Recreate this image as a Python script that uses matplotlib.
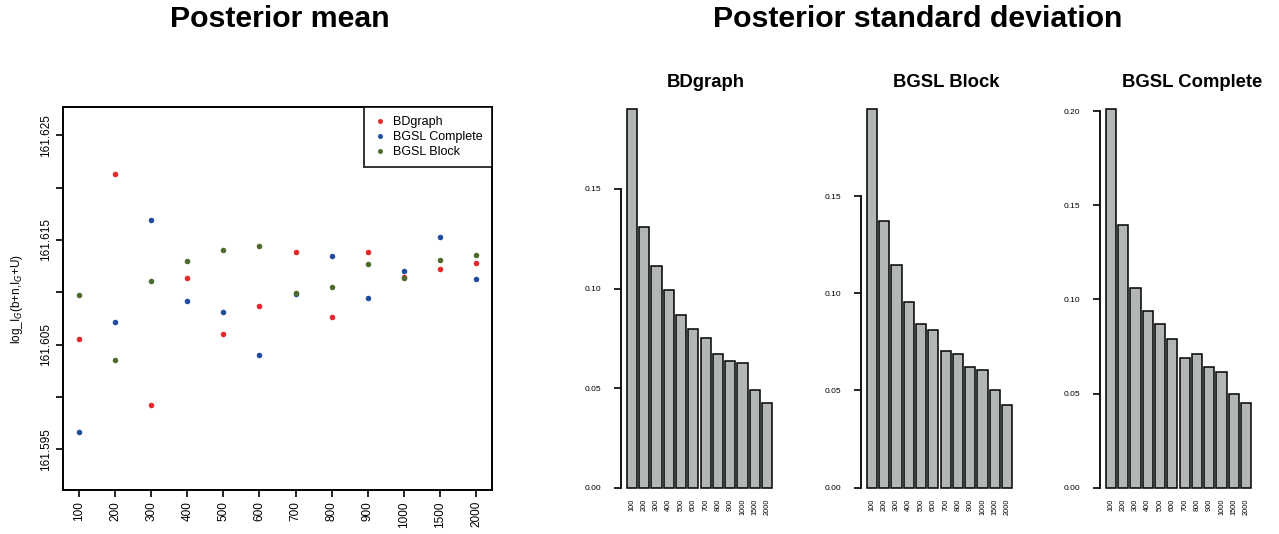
import matplotlib
matplotlib.use("Agg")
import matplotlib.pyplot as plt
import numpy as np

plt.rcParams['font.family'] = ['Liberation Sans', 'DejaVu Sans']

# sample sizes (x categories)
sizes = ["100", "200", "300", "400", "500", "600", "700", "800", "900", "1000", "1500", "2000"]

# posterior mean of log_I_G(b+n, I_G+U)
mean_bdgraph = [161.60556, 161.62130, 161.59918, 161.61140, 161.60604, 161.60866,
                161.61383, 161.60764, 161.61383, 161.61143, 161.61223, 161.61281]
mean_complete = [161.59669, 161.60716, 161.61689, 161.60914, 161.60815, 161.60397,
                 161.60984, 161.61348, 161.60949, 161.61207, 161.61527, 161.61124]
mean_block = [161.60971, 161.60349, 161.61112, 161.61300, 161.61399, 161.61437,
              161.60994, 161.61048, 161.61271, 161.61137, 161.61310, 161.61351]

# posterior standard deviation
sd_bdgraph = [0.1900, 0.1309, 0.1113, 0.0991, 0.0866, 0.0795,
              0.0752, 0.0673, 0.0638, 0.0628, 0.0489, 0.0427]
sd_block = [0.1946, 0.1371, 0.1147, 0.0957, 0.0842, 0.0813,
            0.0703, 0.0686, 0.0622, 0.0605, 0.0501, 0.0427]
sd_complete = [0.2009, 0.1395, 0.1062, 0.0936, 0.0867, 0.0788,
               0.0690, 0.0708, 0.0642, 0.0616, 0.0496, 0.0448]

RED = "#E8282B"
BLUE = "#1F4EA0"
GREEN = "#4E6B2E"
BAR_GREY = "#B3B6B6"

W, H = 1279, 534
fig = plt.figure(figsize=(W / 100, H / 100), dpi=100)


def px_axes(x0, y0, x1, y1):
    return fig.add_axes([x0 / W, 1 - y1 / H, (x1 - x0) / W, (y1 - y0) / H])


# ---- left: posterior mean scatter ----
ax = px_axes(63, 107, 492, 490)
idx = np.arange(1, len(sizes) + 1)
ax.plot(idx, mean_bdgraph, 'o', color=RED, ms=4, mew=0, label="BDgraph")
ax.plot(idx, mean_complete, 'o', color=BLUE, ms=4, mew=0, label="BGSL Complete")
ax.plot(idx, mean_block, 'o', color=GREEN, ms=4, mew=0, label="BGSL Block")
ax.set_xlim(1 - 0.44, 12 + 0.44)
ax.set_ylim(161.5911, 161.6277)
ax.set_xticks(idx)
ax.set_xticklabels(sizes, rotation=90, fontsize=8.5)
yt = [161.595, 161.600, 161.605, 161.610, 161.615, 161.620, 161.625]
ax.set_yticks(yt)
ax.set_yticklabels([f"{v:.3f}" if i % 2 == 0 else "" for i, v in enumerate(yt)],
                   rotation=90, va='center', fontsize=8.5)
for s in ax.spines.values():
    s.set_linewidth(1.4)
ax.tick_params(width=1.2, length=5, pad=3)
ax.set_ylabel(r"log_I$_G$(b+n,I$_G$+U)", fontsize=8.5, labelpad=11)
leg = ax.legend(loc='upper right', fontsize=9, frameon=True, fancybox=False,
                borderaxespad=0, handletextpad=0.4, markerscale=0.9,
                borderpad=0.75, labelspacing=0.22, handlelength=1.2)
leg.get_frame().set_edgecolor('black')
leg.get_frame().set_linewidth(1.4)

fig.text(280 / W, 1 - 27 / H, "Posterior mean", fontsize=21.8, fontweight='bold',
         ha='center', va='baseline')
fig.text(918 / W, 1 - 27 / H, "Posterior standard deviation", fontsize=21.8,
         fontweight='bold', ha='center', va='baseline')

# ---- right: posterior standard deviation bars ----
panels = [
    ("BDgraph", sd_bdgraph, 621, 706, [0, 0.05, 0.10, 0.15]),
    ("BGSL Block", sd_block, 861, 946, [0, 0.05, 0.10, 0.15]),
    ("BGSL Complete", sd_complete, 1100, 1192, [0, 0.05, 0.10, 0.15, 0.20]),
]
pos = 0.7 + 1.2 * np.arange(len(sizes))
for title, vals, x0, tx, ticks in panels:
    bx = px_axes(x0, 94.2, x0 + 157, 502.8)
    bx.bar(pos, vals, width=1.0, color=BAR_GREY, edgecolor='black', linewidth=1.1)
    vmax = max(vals)
    bx.set_xlim(0.2 - 0.568, 14.4 + 0.568)
    bx.set_ylim(-0.04 * vmax, 1.04 * vmax)
    for side in ['top', 'right', 'bottom']:
        bx.spines[side].set_visible(False)
    bx.spines['left'].set_bounds(0, ticks[-1])
    bx.spines['left'].set_linewidth(1.3)
    bx.set_yticks(ticks)
    bx.set_yticklabels([f"{t:.2f}" for t in ticks], fontsize=6)
    bx.tick_params(axis='y', width=1.2, length=5, pad=9)
    bx.set_xticks(pos)
    bx.set_xticklabels(sizes, rotation=90, fontsize=5.3)
    bx.tick_params(axis='x', length=0, pad=-3)
    fig.text(tx / W, 1 - 87 / H, title, fontsize=13.3, fontweight='bold',
             ha='center', va='baseline')

fig.savefig("out.png", dpi=100)
